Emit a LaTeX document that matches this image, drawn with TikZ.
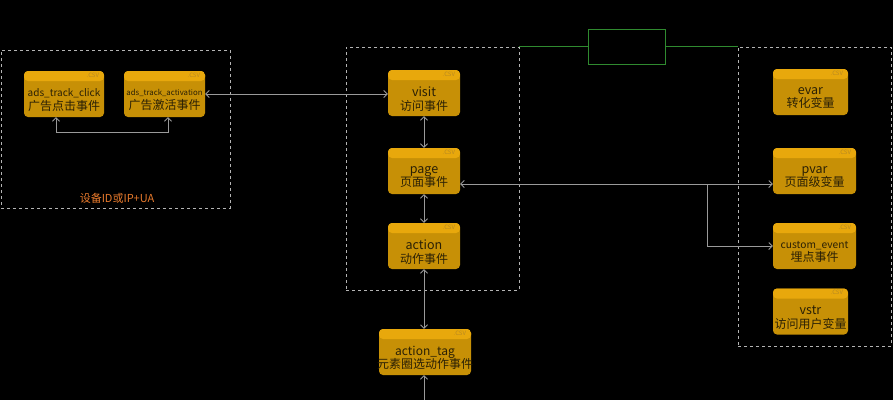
\documentclass[tikz,border=0pt]{standalone}
\usepackage{fontspec}
\setmainfont{Noto Sans CJK SC}
\usetikzlibrary{arrows.meta}
\definecolor{hdr}{HTML}{E8A80C}
\definecolor{body}{HTML}{C79006}
\definecolor{txtc}{HTML}{2A2005}
\definecolor{csvc}{HTML}{B98A22}
\definecolor{dashc}{HTML}{B4B4B4}
\definecolor{connc}{HTML}{9A9A9A}
\definecolor{grn}{HTML}{2F8A2F}
\definecolor{orng}{HTML}{E87A2C}
\tikzset{
  evbox/.style={draw=none, fill=body, rounded corners=4pt, minimum height=46pt, inner sep=0pt,
    path picture={\fill[hdr] (path picture bounding box.north west) rectangle ([yshift=-10pt]path picture bounding box.north east);}},
  evtxt/.style={text=txtc, align=center, inner sep=0pt, font=\fontsize{12.5}{13.5}\selectfont},
  csv/.style={text=csvc, anchor=north east, inner sep=0pt, font=\fontsize{6}{6}\selectfont},
  cont/.style={draw=dashc, dash pattern=on 3pt off 3pt, line width=0.8pt, inner sep=0pt, fill=none},
  conn/.style={draw=connc, line width=0.8pt, arrows={Straight Barb[length=3.5pt,width=7pt]-Straight Barb[length=3.5pt,width=7pt]}},
  connr/.style={draw=connc, line width=0.8pt, arrows={-Straight Barb[length=3.5pt,width=7pt]}},
  connl/.style={draw=connc, line width=0.8pt, arrows={Straight Barb[length=3.5pt,width=7pt]-}},
}
\newcommand\evnode[6]{%
  \node[evbox, minimum width=#3] (#1) at (#2) {};
  \node[evtxt] (#1-t) at ([yshift=-6pt]#1.center) {#6#4\\\fontsize{12}{13.5}\selectfont #5};
  \node[csv] (#1-c) at ([xshift=-5pt,yshift=-2pt]#1.north east) {.CSV};
}
\begin{document}
\begin{tikzpicture}[x=1pt,y=-1pt]
\fill[black] (0,0) rectangle (893,400);
\useasboundingbox (0,0) rectangle (893,400);
% containers
\node[cont, minimum width=229pt, minimum height=158pt] (leftc) at (115.5,129) {};
\node[cont, minimum width=173pt, minimum height=243pt] (midc) at (432.5,168.5) {};
\node[cont, minimum width=153pt, minimum height=299pt] (rightc) at (814.5,196.5) {};
\node[text=orng, inner sep=0pt, font=\fontsize{11}{12}\selectfont] (lab) at (117,198) {设备ID或IP+UA};
% green
\node[draw=grn, line width=0.8pt, minimum width=77pt, minimum height=35pt, inner sep=0pt] (gbox) at (626.5,47) {};
\draw[grn, line width=0.8pt] (midc.north east) -- (midc.north east -| gbox.west);
\draw[grn, line width=0.8pt] (gbox.east |- rightc.north west) -- (rightc.north west);
% event nodes
\evnode{click}{64,94}{80pt}{ads\_track\_click}{广告点击事件}{\fontsize{10}{13.5}\selectfont}
\evnode{activ}{164.5,94}{81pt}{ads\_track\_activation}{广告激活事件}{\fontsize{7.8}{13.5}\selectfont}
\evnode{visit}{424,93}{72pt}{visit}{访问事件}{}
\evnode{page}{424,171}{72pt}{page}{页面事件}{}
\evnode{action}{424,246}{72pt}{action}{动作事件}{}
\evnode{tag}{425,352}{92pt}{action\_tag}{元素圈选动作事件}{\fontsize{12}{13.5}\selectfont}
\evnode{evar}{810.5,92}{75pt}{evar}{转化变量}{}
\evnode{pvar}{814.5,171}{83pt}{pvar}{页面级变量}{}
\evnode{custom}{814.5,246}{83pt}{custom\_event}{埋点事件}{\fontsize{10.2}{13.5}\selectfont}
\evnode{vstr}{810.5,311.5}{75pt}{vstr}{访问用户变量}{}
% connectors
\draw[conn] (activ.east) -- (activ.east -| visit.west);
\draw[conn] ([xshift=-8pt]click.south) -- ++(0,15) -| ([xshift=3.5pt]activ.south);
\draw[conn] (visit.south) -- (page.north);
\draw[conn] (page.south) -- (action.north);
\draw[conn] (action.south) -- (action.south |- tag.north);
\coordinate (bot) at (424,400);
\draw[connl] (tag.south -| bot) -- (bot);
\draw[conn] ([yshift=-13pt]page.east) -- ([yshift=-13pt]pvar.west);
\coordinate (br) at (707,184);
\draw[connr] (br) |- (custom.west);
\end{tikzpicture}
\end{document}
